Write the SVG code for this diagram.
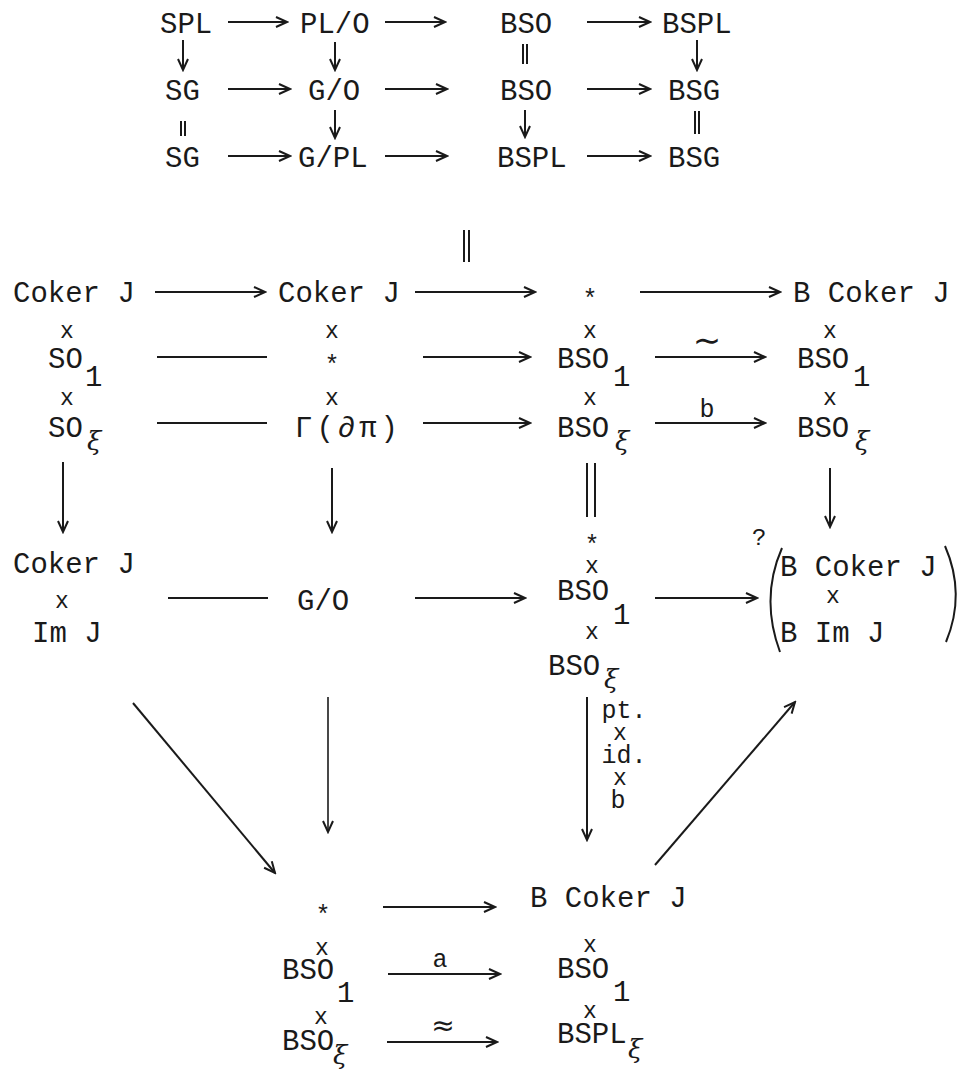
<svg xmlns="http://www.w3.org/2000/svg" width="969" height="1080" viewBox="0 0 969 1080">
<style>
.t{font-family:"Liberation Mono","DejaVu Sans Mono",monospace;font-size:29px;fill:#1a1a1a}
.x{font-family:"Liberation Mono","DejaVu Sans Mono",monospace;font-size:23px;fill:#1a1a1a;text-anchor:middle}
.st{font-family:"Liberation Mono","DejaVu Sans Mono",monospace;font-size:25px;fill:#1a1a1a;text-anchor:middle}
.g{font-family:"DejaVu Serif","Liberation Serif",serif;font-style:italic;font-size:26px;fill:#1a1a1a}
.lb{font-family:"Liberation Mono","DejaVu Sans Mono",monospace;font-size:25px;fill:#1a1a1a;text-anchor:middle}
.q{font-family:"Liberation Mono","DejaVu Sans Mono",monospace;font-size:24px;fill:#1a1a1a}
.l{stroke:#1a1a1a;stroke-width:2;fill:none}
.a{stroke:#1a1a1a;stroke-width:2;fill:none;marker-end:url(#ah)}
.ad{stroke:#1a1a1a;stroke-width:1.6;fill:none;marker-end:url(#ah)}
</style>
<defs>
<marker id="ah" markerWidth="14" markerHeight="12" refX="12" refY="6" orient="auto" markerUnits="userSpaceOnUse">
<path d="M1,1 L12,6 L1,11" fill="none" stroke="#1a1a1a" stroke-width="2"/>
</marker>
</defs>
<rect width="969" height="1080" fill="#ffffff"/>

<!-- top block nodes -->
<g id="t-spl"><text class="t" x="160" y="33">SPL</text></g>
<g id="t-plo"><text class="t" x="300" y="33">PL/O</text></g>
<g id="t-bso1"><text class="t" x="500" y="33">BSO</text></g>
<g id="t-bspl1"><text class="t" x="662" y="33">BSPL</text></g>
<g id="t-sg1"><text class="t" x="165" y="100">SG</text></g>
<g id="t-go"><text class="t" x="308" y="100">G/O</text></g>
<g id="t-bso2"><text class="t" x="500" y="100">BSO</text></g>
<g id="t-bsg1"><text class="t" x="668" y="100">BSG</text></g>
<g id="t-sg2"><text class="t" x="165" y="167">SG</text></g>
<g id="t-gpl"><text class="t" x="298" y="167">G/PL</text></g>
<g id="t-bspl2"><text class="t" x="497" y="167">BSPL</text></g>
<g id="t-bsg2"><text class="t" x="668" y="167">BSG</text></g>

<!-- main nodes -->
<g id="n1">
<text class="t" x="13" y="302">Coker J</text>
<text class="x" x="67" y="338">x</text>
<text class="t" x="48" y="368">SO</text><text class="t" x="85" y="386">1</text>
<text class="x" x="67" y="405">x</text>
<text class="t" x="48" y="437">SO</text><text class="g" x="87" y="450">ξ</text>
</g>
<g id="n2">
<text class="t" x="278" y="302">Coker J</text>
<text class="x" x="332" y="338">x</text>
<text class="st" x="332" y="373">*</text>
<text class="x" x="332" y="405">x</text>
<text class="t" x="295" y="437" letter-spacing="4">Γ(∂π)</text>
</g>
<g id="n3">
<text class="st" x="590" y="307">*</text>
<text class="x" x="590" y="338">x</text>
<text class="t" x="557" y="368">BSO</text><text class="t" x="613" y="386">1</text>
<text class="x" x="590" y="405">x</text>
<text class="t" x="557" y="437">BSO</text><text class="g" x="615" y="450">ξ</text>
</g>
<g id="n4">
<text class="t" x="793" y="302">B Coker J</text>
<text class="x" x="830" y="338">x</text>
<text class="t" x="797" y="368">BSO</text><text class="t" x="853" y="386">1</text>
<text class="x" x="830" y="405">x</text>
<text class="t" x="797" y="437">BSO</text><text class="g" x="855" y="450">ξ</text>
</g>
<g id="n5">
<text class="t" x="13" y="573">Coker J</text>
<text class="x" x="62" y="608">x</text>
<text class="t" x="32" y="642">Im J</text>
</g>
<g id="n6"><text class="t" x="297" y="610">G/O</text></g>
<g id="n7">
<text class="st" x="592" y="553">*</text>
<text class="x" x="592" y="573">x</text>
<text class="t" x="557" y="600">BSO</text><text class="t" x="613" y="624">1</text>
<text class="x" x="592" y="639">x</text>
<text class="t" x="548" y="675">BSO</text><text class="g" x="604" y="688">ξ</text>
</g>
<g id="n8">
<text class="q" x="752" y="545">?</text>
<path class="l" d="M782,548 Q760,598 780,652"/>
<path class="l" d="M945,546 Q966,594 946,642"/>
<text class="t" x="780" y="576">B Coker J</text>
<text class="x" x="833" y="603">x</text>
<text class="t" x="780" y="642">B Im J</text>
</g>
<g id="n9">
<text class="st" x="323" y="923">*</text>
<text class="x" x="322" y="955">x</text>
<text class="t" x="282" y="979">BSO</text><text class="t" x="337" y="1002">1</text>
<text class="x" x="321" y="1024">x</text>
<text class="t" x="282" y="1050">BSO</text><text class="g" x="333" y="1064">ξ</text>
</g>
<g id="n10">
<text class="t" x="530" y="907">B Coker J</text>
<text class="x" x="590" y="952">x</text>
<text class="t" x="557" y="978">BSO</text><text class="t" x="613" y="1001">1</text>
<text class="x" x="590" y="1018">x</text>
<text class="t" x="557" y="1043">BSPL</text><text class="g" x="628" y="1058">ξ</text>
</g>

<!-- connectors -->
<g id="connectors">
<!-- top block horizontals -->
<line class="a" x1="228" y1="22" x2="287" y2="22"/>
<line class="a" x1="385" y1="22" x2="445" y2="22"/>
<line class="a" x1="587" y1="22" x2="650" y2="22"/>
<line class="a" x1="228" y1="89" x2="290" y2="89"/>
<line class="a" x1="385" y1="89" x2="447" y2="89"/>
<line class="a" x1="587" y1="89" x2="650" y2="89"/>
<line class="a" x1="228" y1="156" x2="290" y2="156"/>
<line class="a" x1="385" y1="156" x2="447" y2="156"/>
<line class="a" x1="587" y1="156" x2="650" y2="156"/>
<!-- top block verticals -->
<line class="a" x1="183" y1="40" x2="183" y2="70"/>
<line class="l" x1="181" y1="121" x2="181" y2="136"/><line class="l" x1="185" y1="121" x2="185" y2="136"/>
<line class="a" x1="335" y1="42" x2="335" y2="70"/>
<line class="a" x1="335" y1="110" x2="335" y2="138"/>
<line class="l" x1="523" y1="44" x2="523" y2="64"/><line class="l" x1="527" y1="44" x2="527" y2="64"/>
<line class="a" x1="525" y1="110" x2="525" y2="137"/>
<line class="a" x1="697" y1="40" x2="697" y2="70"/>
<line class="l" x1="695" y1="111" x2="695" y2="134"/><line class="l" x1="699" y1="111" x2="699" y2="134"/>
<!-- link between blocks -->
<line class="l" x1="464" y1="230" x2="464" y2="262"/><line class="l" x1="469" y1="230" x2="469" y2="262"/>
<!-- row A -->
<line class="a" x1="155" y1="292" x2="265" y2="292"/>
<line class="a" x1="415" y1="292" x2="535" y2="292"/>
<line class="a" x1="640" y1="292" x2="780" y2="292"/>
<!-- row B -->
<line class="l" x1="157" y1="357" x2="267" y2="357"/>
<line class="a" x1="423" y1="357" x2="530" y2="357"/>
<line class="a" x1="655" y1="357" x2="765" y2="357"/>
<text x="707" y="352" font-family="DejaVu Sans,sans-serif" font-size="34" fill="#1a1a1a" text-anchor="middle">∼</text>
<!-- row C -->
<line class="l" x1="157" y1="423" x2="267" y2="423"/>
<line class="a" x1="423" y1="423" x2="530" y2="423"/>
<line class="a" x1="655" y1="423" x2="765" y2="423"/>
<text class="lb" x="707" y="417">b</text>
<!-- verticals -->
<line class="a" x1="63" y1="462" x2="63" y2="532"/>
<line class="a" x1="332" y1="468" x2="332" y2="532"/>
<line class="l" x1="587" y1="463" x2="587" y2="517"/><line class="l" x1="595" y1="463" x2="595" y2="517"/>
<line class="a" x1="830" y1="468" x2="830" y2="527"/>
<!-- row D -->
<line class="l" x1="168" y1="598" x2="268" y2="598"/>
<line class="a" x1="415" y1="598" x2="525" y2="598"/>
<line class="a" x1="655" y1="598" x2="757" y2="598"/>
<!-- lower -->
<line class="a" x1="133" y1="703" x2="275" y2="873"/>
<line class="ad" x1="328" y1="697" x2="328" y2="832"/>
<line class="a" x1="587" y1="697" x2="587" y2="840"/>
<text class="lb" x="624" y="718">pt.</text>
<text class="x" x="620" y="740">x</text>
<text class="lb" x="624" y="763">id.</text>
<text class="x" x="620" y="785">x</text>
<text class="lb" x="618" y="808">b</text>
<line class="a" x1="655" y1="865" x2="795" y2="702"/>
<!-- bottom -->
<line class="a" x1="383" y1="907" x2="495" y2="907"/>
<line class="a" x1="388" y1="974" x2="500" y2="974"/>
<text class="lb" x="440" y="967">a</text>
<line class="a" x1="387" y1="1042" x2="497" y2="1042"/>
<text x="443" y="1035" font-family="DejaVu Sans,sans-serif" font-size="28" fill="#1a1a1a" text-anchor="middle">≈</text>
</g>
</svg>
